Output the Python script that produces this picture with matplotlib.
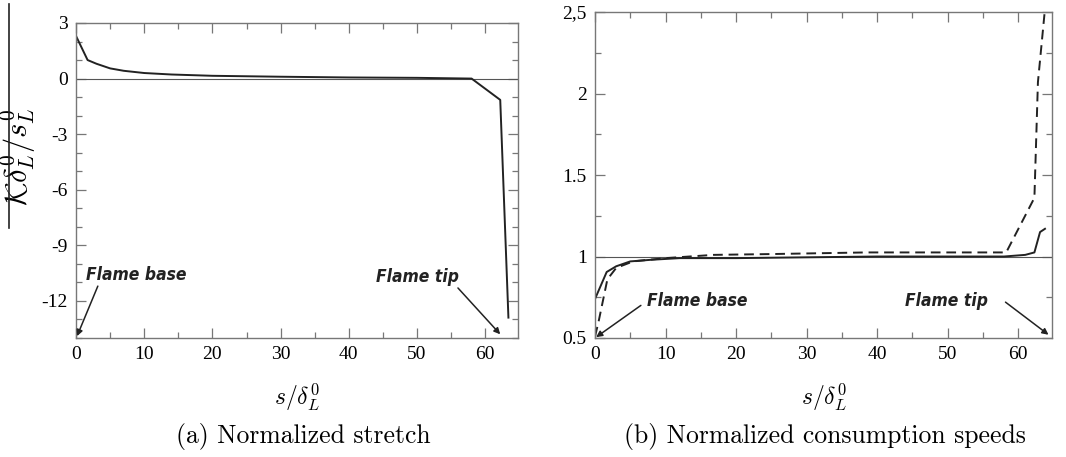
import numpy as np
import matplotlib
matplotlib.use('Agg')
import matplotlib.pyplot as plt
from matplotlib.lines import Line2D

plt.rcParams['mathtext.fontset'] = 'cm'

# (a) normalized stretch
s_a = [0, 1.7, 3, 5, 7, 10, 14, 20, 30, 40, 50, 58, 62.2, 63.4]
k_a = [2.3, 1.0, 0.8, 0.55, 0.42, 0.3, 0.22, 0.15, 0.1, 0.06, 0.04, 0.0, -1.15, -12.9]

# (b) normalized consumption speeds
s_b_solid = [0, 1.65, 3, 5, 8, 12, 20, 30, 40, 50, 58, 61, 62.3, 63.1, 63.8]
v_b_solid = [0.74, 0.905, 0.94, 0.97, 0.98, 0.99, 0.99, 0.995, 1.0, 1.0, 1.0, 1.01, 1.025, 1.15, 1.17]
s_b_dash = [0, 0.5, 1.75, 3, 5.4, 10, 16.8, 25, 38.5, 58.3, 62.3, 62.8, 63.8]
v_b_dash = [0.51, 0.6, 0.86, 0.93, 0.97, 0.99, 1.01, 1.015, 1.025, 1.025, 1.36, 2.07, 2.52]

ya_ticks = [-12, -9, -6, -3, 0, 3]
ya_labels = ['-12', '-9', '-6', '-3', '0', '3']
yb_ticks = [0.5, 1, 1.5, 2, 2.5]
yb_labels = ['0.5', '1', '1.5', '2', '2,5']
x_ticks = [0, 10, 20, 30, 40, 50, 60]

tickfont = dict(family='Liberation Serif', size=14)
notefont = dict(family='DejaVu Sans', stretch='condensed', weight='bold',
                style='italic', size=12.5, color='#222222')
spine_c = '#777777'
ink = '#222222'


def style_axes(ax, xlim, ylim, yminor):
    ax.set_xlim(xlim)
    ax.set_ylim(ylim)
    ax.set_xticks(x_ticks)
    ax.set_xticks(np.arange(5, 65, 10), minor=True)
    ax.set_yticks(yminor, minor=True)
    ax.tick_params(which='both', direction='in', top=True, right=True,
                   color=spine_c, width=0.9, pad=6)
    ax.tick_params(which='major', length=7)
    ax.tick_params(which='minor', length=4)
    for sp in ax.spines.values():
        sp.set_color(spine_c)
        sp.set_linewidth(1.0)
    ax.set_xticklabels([str(t) for t in x_ticks], **tickfont)
    ax.set_xlabel(r'$s/\delta_L^0$', fontsize=17, labelpad=13)


def arrow(ax, start, end):
    ax.annotate('', xy=end, xytext=start,
                arrowprops=dict(arrowstyle='-|>', color=ink, lw=1.1,
                                shrinkA=0, shrinkB=0, mutation_scale=9))


fig = plt.figure(figsize=(10.66, 4.57), dpi=100)
ax1 = fig.add_axes([0.0713, 0.2604, 0.4146, 0.6893])
ax2 = fig.add_axes([0.5582, 0.2604, 0.4287, 0.7133])

# left panel
ax1.axhline(0, color='#555555', lw=0.8)
ax1.plot(s_a, k_a, color=ink, lw=1.4)
style_axes(ax1, (0, 64.8), (-14, 3), np.arange(-14, 3.1, 1))
ax1.set_yticks(ya_ticks)
ax1.set_yticklabels(ya_labels, **tickfont)
ax1.set_ylabel(r'$\mathcal{K}\delta_L^0/s_L^0$', fontsize=22, labelpad=0)
ax1.yaxis.set_label_coords(-0.086, 0.575)
ax1.text(1.5, -10.6, 'Flame base', ha='left', va='center', **notefont)
arrow(ax1, (3.2, -11.2), (0.15, -13.9))
ax1.text(44.0, -10.7, 'Flame tip', ha='left', va='center', **notefont)
arrow(ax1, (56.0, -11.3), (62.2, -13.8))

# right panel
ax2.axhline(1, color='#555555', lw=0.8)
ax2.plot(s_b_solid, v_b_solid, color=ink, lw=1.4)
ax2.plot(s_b_dash, v_b_dash, color=ink, lw=1.4, ls=(0, (5, 3)))
style_axes(ax2, (0, 64.8), (0.5, 2.5), np.arange(0.5, 2.51, 0.25))
ax2.set_yticks(yb_ticks)
ax2.set_yticklabels(yb_labels, **tickfont)
ax2.text(7.4, 0.728, 'Flame base', ha='left', va='center', **notefont)
arrow(ax2, (6.5, 0.70), (0.15, 0.505))
ax2.text(43.9, 0.728, 'Flame tip', ha='left', va='center', **notefont)
arrow(ax2, (58.2, 0.72), (64.3, 0.52))

# fraction-bar style stroke beside the left y label
fig.add_artist(Line2D([9 / 1066, 9 / 1066], [1 - 4 / 457, 1 - 228 / 457],
                      color=ink, lw=1.2))

# captions
fig.text(303 / 1066, 1 - 437 / 457, '(a) Normalized stretch',
         family='cmr10', fontsize=18.5, ha='center', va='center')
fig.text(825 / 1066, 1 - 437 / 457, '(b) Normalized consumption speeds',
         family='cmr10', fontsize=18.5, ha='center', va='center')

fig.savefig('out.png', dpi=100)
